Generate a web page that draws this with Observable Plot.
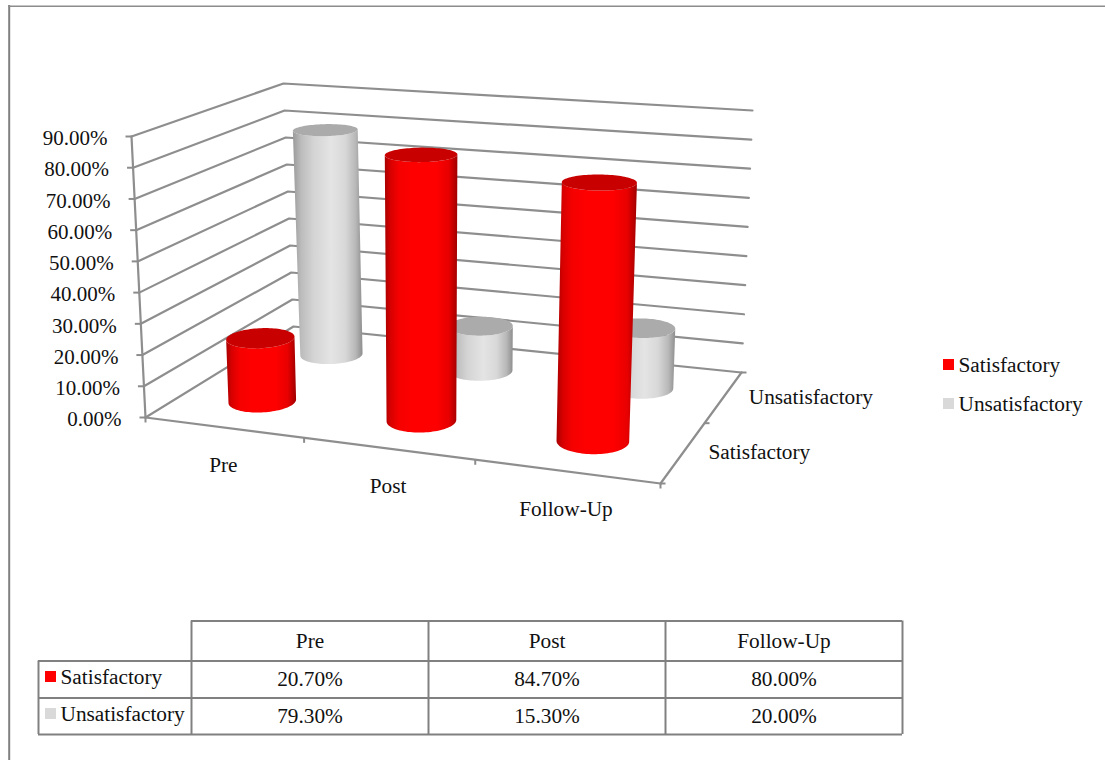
<!DOCTYPE html>
<html>
<head>
<meta charset="utf-8">
<script src="https://cdn.jsdelivr.net/npm/d3@7"></script>
<script src="https://cdn.jsdelivr.net/npm/@observablehq/plot@0.6"></script>
<style>
  html, body { margin: 0; padding: 0; background: #fff; }
  svg { display: block; }
</style>
</head>
<body>
<div id="chart"></div>
<script>
// Chart values
const categories = ["Pre", "Post", "Follow-Up"];
const seriesNames = ["Satisfactory", "Unsatisfactory"];
const satisfactory = [20.7, 84.7, 80.0];
const unsatisfactory = [79.3, 15.3, 20.0];
const valueTicks = [0, 10, 20, 30, 40, 50, 60, 70, 80, 90];
const seriesColors = ["#ff0000", "#d9d9d9"];
const percent = (v) => v.toFixed(2) + "%";

// Perspective box: the floor and the 90% plane, as corners (front-left,
// front-right, back-right, back-left) on the page.
const floorCorners = [[145, 417], [660, 483], [741, 372], [293, 326]];
const ceilingCorners = [[131, 136], [671, 174], [752, 110], [283, 83]];
const valueMax = 90;

function squareToQuad(q) {
  const [[x0, y0], [x1, y1], [x2, y2], [x3, y3]] = q;
  const dx1 = x1 - x2, dx2 = x3 - x2, sx = x0 - x1 + x2 - x3;
  const dy1 = y1 - y2, dy2 = y3 - y2, sy = y0 - y1 + y2 - y3;
  const den = dx1 * dy2 - dx2 * dy1;
  const g = (sx * dy2 - dx2 * sy) / den;
  const h = (dx1 * sy - sx * dy1) / den;
  const a = x1 - x0 + g * x1, b = x3 - x0 + h * x3;
  const d = y1 - y0 + g * y1, e = y3 - y0 + h * y3;
  return (s, t) => {
    const w = g * s + h * t + 1;
    return [(a * s + b * t + x0) / w, (d * s + e * t + y0) / w];
  };
}
const onFloor = squareToQuad(floorCorners);
const onCeiling = squareToQuad(ceilingCorners);

// u: category position (0..3), v: series depth (0..2), w: value in percent
function project(u, v, w) {
  const s = u / categories.length, t = v / seriesNames.length;
  const [fx, fy] = onFloor(s, t), [cx, cy] = onCeiling(s, t);
  const k = w / valueMax;
  return { x: fx + (cx - fx) * k, y: fy + (cy - fy) * k };
}

const segment = (a, b, id) => [{ ...a, id }, { ...b, id }];

// Gridlines on the two walls, then the axis lines
const gridPoints = valueTicks.flatMap((w) => [
  { ...project(0, 0, w), id: w },
  { ...project(0, 2, w), id: w },
  { ...project(3, 2, w), id: w }
]);
const axisPoints = [
  ...segment(project(0, 0, 0), project(0, 0, valueMax), "value"),
  ...segment(project(0, 0, 0), project(3, 0, 0), "category"),
  ...segment(project(3, 0, 0), project(3, 2, 0), "depth")
];

// Cylinders
const radiusU = 0.195, radiusV = 0.21, ringSteps = 96;
function ring(u, v, w) {
  return d3.range(ringSteps).map((i) => {
    const a = (2 * Math.PI * i) / ringSteps;
    return project(u + radiusU * Math.cos(a), v + radiusV * Math.sin(a), w);
  });
}
function frontArc(points) {
  const left = d3.least(d3.range(ringSteps), (i) => points[i].x);
  const right = d3.least(d3.range(ringSteps), (i) => -points[i].x);
  const arc = [];
  for (let i = left; ; i = (i + 1) % ringSteps) {
    arc.push(points[i]);
    if (i === right) break;
  }
  return arc;
}
function cylinderMarks(values, depth, gradient, capColor) {
  const sides = [], caps = [];
  values.forEach((value, i) => {
    const u = i + 0.5, v = depth + 0.5;
    const top = ring(u, v, value);
    const bottomArc = frontArc(ring(u, v, 0));
    const topArc = frontArc(top).reverse();
    for (const p of [...bottomArc, ...topArc]) sides.push({ ...p, id: i });
    for (const p of top) caps.push({ ...p, id: i });
  });
  return [
    Plot.line(sides, { x: "x", y: "y", z: "id", fill: `url(#${gradient})`, stroke: "none", curve: "linear-closed" }),
    Plot.line(caps, { x: "x", y: "y", z: "id", fill: capColor, stroke: "none", curve: "linear-closed" })
  ];
}

function gradientDefs() {
  const defs = d3.create("svg:defs");
  const add = (id, stops) => {
    const g = defs.append("linearGradient").attr("id", id);
    for (const [offset, color] of stops) {
      g.append("stop").attr("offset", offset).attr("stop-color", color);
    }
  };
  add("redShade", [[0, "#a80000"], [0.08, "#d80000"], [0.2, "#f60000"], [0.4, "#ff0000"], [0.7, "#ff0000"], [0.88, "#e80000"], [1, "#a00000"]]);
  add("greyShade", [[0, "#9a9a9a"], [0.12, "#bcbcbc"], [0.3, "#d4d4d4"], [0.55, "#e4e4e4"], [0.75, "#d8d8d8"], [0.9, "#b8b8b8"], [1, "#8e8e8e"]]);
  return defs.node();
}

// Tick marks
const tickColor = "#8c8c8c";
const valueTickRows = valueTicks.map((w) => project(0, 0, w));
const categoryTickRows = d3.range(categories.length + 1).map((u) => project(u, 0, 0));
const depthTickRows = d3.range(seriesNames.length + 1).map((v) => project(3, v, 0));

// Data table beneath the chart
const tableColumns = [191, 428, 665, 902];
const tableRows = [620.5, 660.5, 697.5, 734];
const tableLeft = 38;
const cellCentre = (c) => (tableColumns[c] + tableColumns[c + 1]) / 2;
const tableCells = [
  ...categories.map((text, c) => ({ x: cellCentre(c), y: 641, text })),
  ...satisfactory.map((v, c) => ({ x: cellCentre(c), y: 679, text: percent(v) })),
  ...unsatisfactory.map((v, c) => ({ x: cellCentre(c), y: 716, text: percent(v) }))
];
const rowLabels = seriesNames.map((text, i) => ({ x: 60, y: [677, 714][i], text }));
const rowSwatches = seriesNames.map((name, i) => ({ x1: 45, x2: 56, y1: [671, 708][i], y2: [682, 719][i], color: seriesColors[i] }));
const legendLabels = seriesNames.map((text, i) => ({ x: 958, y: [365, 403.5][i], text }));
const legendSwatches = seriesNames.map((name, i) => ({ x1: 943, x2: 954, y1: [359, 398][i], y2: [370, 409][i], color: seriesColors[i] }));

const serif = { fontFamily: "Liberation Serif", fontSize: 21.3, fill: "#111", lineAnchor: "middle" };

const chart = Plot.plot({
  width: 1105,
  height: 760,
  margin: 0,
  style: { background: "#fff" },
  x: { domain: [0, 1105], range: [0, 1105], axis: null },
  y: { domain: [0, 760], range: [0, 760], axis: null },
  marks: [
    gradientDefs,
    // Outer frame
    Plot.ruleX([8.7], { y1: 5, y2: 760, stroke: "#808080", strokeWidth: 2 }),
    Plot.ruleY([5.8], { x1: 8, x2: 1105, stroke: "#8c8c8c", strokeWidth: 1.5 }),
    // Walls and axes
    Plot.line(gridPoints, { x: "x", y: "y", z: "id", stroke: "#8e8e8e", strokeWidth: 2.2, curve: "linear" }),
    Plot.line(axisPoints, { x: "x", y: "y", z: "id", stroke: "#8e8e8e", strokeWidth: 2.2, curve: "linear" }),
    Plot.link(valueTickRows, { x1: "x", y1: "y", x2: (d) => d.x - 6, y2: (d) => d.y, stroke: tickColor, strokeWidth: 2 }),
    Plot.link(categoryTickRows, { x1: "x", y1: "y", x2: "x", y2: (d) => d.y + 5, stroke: tickColor, strokeWidth: 2 }),
    Plot.link(depthTickRows, { x1: "x", y1: "y", x2: (d) => d.x + 5, y2: (d) => d.y, stroke: tickColor, strokeWidth: 2 }),
    // Rear row first, so the front row hides it
    ...cylinderMarks(unsatisfactory, 1, "greyShade", "#ababab"),
    ...cylinderMarks(satisfactory, 0, "redShade", "#c80000"),
    // Axis labels
    Plot.text(valueTicks, {
      x: (w) => project(0, 0, w).x,
      y: (w) => project(0, 0, w).y,
      text: (w) => percent(w),
      textAnchor: "end", dx: -24, dy: 2, ...serif, fontSize: 21
    }),
    Plot.text(categories, {
      x: (c, i) => project(i + 0.5, 0, 0).x,
      y: (c, i) => project(i + 0.5, 0, 0).y,
      text: (c) => c,
      textAnchor: "middle", dy: 38, ...serif
    }),
    Plot.text(seriesNames, {
      x: (s, i) => project(3, i + 0.5, 0).x,
      y: (s, i) => project(3, i + 0.5, 0).y,
      text: (s) => s,
      textAnchor: "start", dx: 25, ...serif
    }),
    // Legend
    Plot.rect(legendSwatches, { x1: "x1", x2: "x2", y1: "y1", y2: "y2", fill: "color" }),
    Plot.text(legendLabels, { x: "x", y: "y", text: "text", textAnchor: "start", ...serif }),
    // Data table
    Plot.ruleY([tableRows[0]], { x1: tableColumns[0], x2: tableColumns[3], stroke: "#808080", strokeWidth: 2 }),
    Plot.ruleY(tableRows.slice(1), { x1: tableLeft, x2: tableColumns[3], stroke: "#808080", strokeWidth: 2 }),
    Plot.ruleX(tableColumns, { y1: tableRows[0], y2: tableRows[3], stroke: "#808080", strokeWidth: 2 }),
    Plot.ruleX([tableLeft], { y1: tableRows[1], y2: tableRows[3], stroke: "#808080", strokeWidth: 2 }),
    Plot.rect(rowSwatches, { x1: "x1", x2: "x2", y1: "y1", y2: "y2", fill: "color" }),
    Plot.text(rowLabels, { x: "x", y: "y", text: "text", textAnchor: "start", ...serif }),
    Plot.text(tableCells, { x: "x", y: "y", text: "text", textAnchor: "middle", ...serif })
  ]
});
document.getElementById("chart").append(chart);
</script>
</body>
</html>
